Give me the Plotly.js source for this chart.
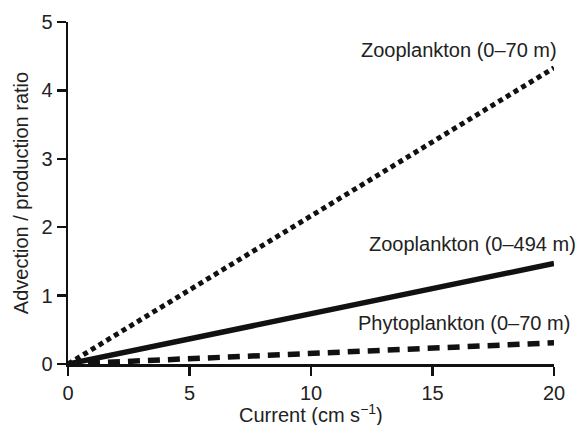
<!DOCTYPE html>
<html>
<head>
<meta charset="utf-8">
<script src="https://cdn.plot.ly/plotly-3.0.1.min.js"></script>
<style>html,body{margin:0;padding:0;background:#fff;}#chart{width:585px;height:425px;}</style>
</head>
<body>
<div id="chart"></div>
<script>
const currentX = [0, 20];
const zooShallow = [0, 4.33];
const zooDeep = [0, 1.47];
const phyto = [0, 0.31];
const seriesNames = ["Zooplankton (0\u201370 m)", "Zooplankton (0\u2013494 m)", "Phytoplankton (0\u201370 m)"];
const labelX = [16.07, 16.63, 16.28];
const labelY = [4.59, 1.75, 0.6];
const xTitle = "Current (cm s<sup>\u22121</sup>)";
const yTitle = "Advection / production ratio";

const font = {family: "Liberation Sans, Arial, sans-serif", size: 20, color: "#222"};

const traces = [
  {x: currentX, y: zooShallow, mode: "lines", line: {color: "#111", width: 5, dash: "5px,4px"}, name: seriesNames[0]},
  {x: currentX, y: zooDeep, mode: "lines", line: {color: "#111", width: 5.5}, name: seriesNames[1]},
  {x: currentX, y: phyto, mode: "lines", line: {color: "#111", width: 5.5, dash: "12px,8px"}, name: seriesNames[2]}
];

const annotations = seriesNames.map((t, i) => ({
  x: labelX[i], y: labelY[i], xref: "x", yref: "y", text: t, showarrow: false,
  font: font, xanchor: "center", yanchor: "middle"
}));
annotations.push({
  x: 0.5, y: -0.146, xref: "paper", yref: "paper", text: xTitle, showarrow: false,
  font: font, xanchor: "center", yanchor: "middle"
});

const layout = {
  width: 585, height: 425,
  margin: {l: 68, r: 31, t: 22, b: 61},
  showlegend: false,
  paper_bgcolor: "#fff", plot_bgcolor: "#fff",
  font: font,
  xaxis: {
    range: [0, 20], tickvals: [0, 5, 10, 15, 20], showgrid: false, zeroline: false,
    showline: true, linecolor: "#111", linewidth: 2.5, ticks: "outside", ticklen: 9, tickwidth: 2.5, tickcolor: "#111",
    tickfont: font
  },
  yaxis: {
    range: [0, 5], tickvals: [0, 1, 2, 3, 4, 5], showgrid: false, zeroline: false,
    showline: true, linecolor: "#111", linewidth: 2.5, ticks: "outside", ticklen: 9, tickwidth: 2.5, tickcolor: "#111",
    tickfont: font,
    title: {text: yTitle, font: font, standoff: 8}
  },
  annotations: annotations
};

Plotly.newPlot("chart", traces, layout, {displayModeBar: false, staticPlot: true});
</script>
</body>
</html>
